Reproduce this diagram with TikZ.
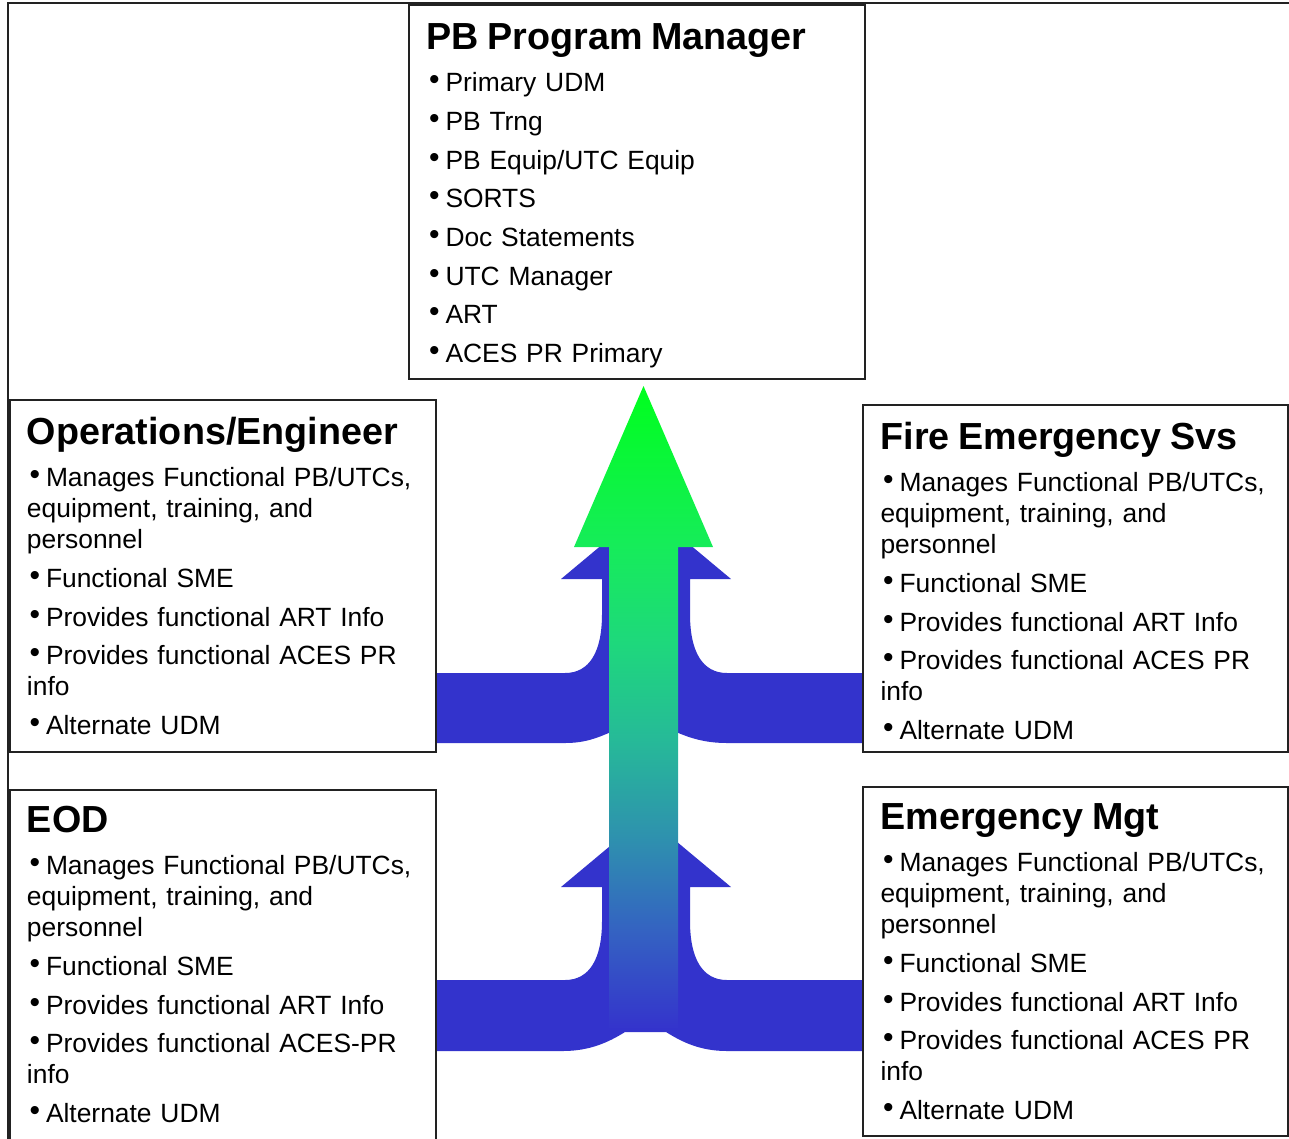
\documentclass[tikz,border=0pt]{standalone}
\usepackage{fontspec}
\setmainfont{Liberation Sans}
\usetikzlibrary{calc}
\definecolor{arrblue}{HTML}{3333CC}
\definecolor{frameC}{HTML}{222222}
\definecolor{sA}{HTML}{3434CC}
\definecolor{sB}{HTML}{3462C2}
\definecolor{sC}{HTML}{2E92AE}
\definecolor{sD}{HTML}{26BA98}
\definecolor{sE}{HTML}{1ED87C}
\definecolor{sF}{HTML}{16EC5A}
\definecolor{sG}{HTML}{00FF1E}
\pgfdeclareverticalshading{arrowshade}{100bp}{color(0bp)=(sA); color(25bp)=(sA); color(32.5bp)=(sB); color(40bp)=(sC); color(47.5bp)=(sD); color(55bp)=(sE); color(62.5bp)=(sF); color(75bp)=(sG); color(100bp)=(sG)}
\newcommand{\ttl}[1]{{\fontsize{37.7}{40}\selectfont\bfseries\rule{0pt}{30pt}#1\par}\vspace{4pt}}
\newcommand{\bitem}{\par\hspace*{2.5pt}\raisebox{2pt}{\fontsize{30}{30}\selectfont•}\hspace{6pt}}
\newcommand{\setpar}{\setlength{\parindent}{0pt}\setlength{\parskip}{7.7pt}}
\begin{document}
\begin{tikzpicture}[x=1pt,y=-1pt,
  frame/.style={draw=frameC, line width=2pt},
  box/.style={draw=frameC, line width=2pt, fill=white, anchor=north west, inner sep=0pt, outer sep=0pt},
  txt/.style={anchor=north west, inner sep=0pt, outer sep=0pt, text width=405pt, align=left, font=\fontsize{26.4}{31}\selectfont}]
\useasboundingbox (0,0) rectangle (1289,1138);
\clip (0,0) rectangle (1289,1138);
\draw[frame] (8,3) rectangle (1300,1160);

% blue merging arrows (upper pair)
\fill[arrblue] (430,673) -- (565,673) .. controls (590,673) and (602,651) .. (602,614) -- (602,579) -- (561,579) -- (646,508) -- (731,579) -- (690,579) -- (690,614) .. controls (690,651) and (702,673) .. (727,673) -- (870,673) -- (870,743) -- (727,743) .. controls (705,743) and (690,738) .. (676,732) -- (611,732) .. controls (597,738) and (585,743) .. (565,743) -- (430,743) -- cycle;
% blue merging arrows (lower pair)
\fill[arrblue] (430,980) -- (565,980) .. controls (590,980) and (602,958) .. (602,921) -- (602,887) -- (561,887) -- (646,816) -- (731,887) -- (690,887) -- (690,921) .. controls (690,958) and (702,980) .. (727,980) -- (870,980) -- (870,1051) -- (727,1051) .. controls (700,1051) and (682,1042) .. (666,1032) -- (625,1032) .. controls (609,1042) and (590,1051) .. (563,1051) -- (430,1051) -- cycle;
% big gradient arrow
\shade[shading=arrowshade] (609,1028) -- (609,547) -- (574,547) -- (643.5,386) -- (713,547) -- (678,547) -- (678,1028) -- cycle;

% boxes
\node[box, minimum width=456pt, minimum height=374pt] (pb) at (409,5) {};
\node[box, minimum width=426pt, minimum height=352pt] (ops) at (10,400) {};
\node[box, minimum width=425pt, minimum height=347pt] (fire) at (863,405) {};
\node[box, minimum width=426pt, minimum height=360pt] (eod) at (10,790) {};
\node[box, minimum width=425pt, minimum height=349pt] (emg) at (863,787) {};

% texts
\node[txt] (pbT) at ($(pb.north west)+(17.5,14)$) {\setpar\ttl{PB Program Manager}%
\bitem Primary UDM\bitem PB Trng\bitem PB Equip/UTC Equip\bitem SORTS\bitem Doc Statements\bitem UTC Manager\bitem ART\bitem ACES PR Primary\par};
\node[txt] (opsT) at ($(ops.north west)+(17,14)$) {\setpar\ttl{Operations/Engineer}%
\bitem Manages Functional PB/UTCs,\newline equipment, training, and\newline personnel\bitem Functional SME\bitem Provides functional ART Info\bitem Provides functional ACES PR\newline info\bitem Alternate UDM\par};
\node[txt] (fireT) at ($(fire.north west)+(17.5,14)$) {\setpar\ttl{Fire Emergency Svs}%
\bitem Manages Functional PB/UTCs,\newline equipment, training, and\newline personnel\bitem Functional SME\bitem Provides functional ART Info\bitem Provides functional ACES PR\newline info\bitem Alternate UDM\par};
\node[txt] (eodT) at ($(eod.north west)+(17,12)$) {\setpar\ttl{EOD}%
\bitem Manages Functional PB/UTCs,\newline equipment, training, and\newline personnel\bitem Functional SME\bitem Provides functional ART Info\bitem Provides functional ACES-PR\newline info\bitem Alternate UDM\par};
\node[txt] (emgT) at ($(emg.north west)+(17.5,12)$) {\setpar\ttl{Emergency Mgt}%
\bitem Manages Functional PB/UTCs,\newline equipment, training, and\newline personnel\bitem Functional SME\bitem Provides functional ART Info\bitem Provides functional ACES PR\newline info\bitem Alternate UDM\par};
\end{tikzpicture}
\end{document}
